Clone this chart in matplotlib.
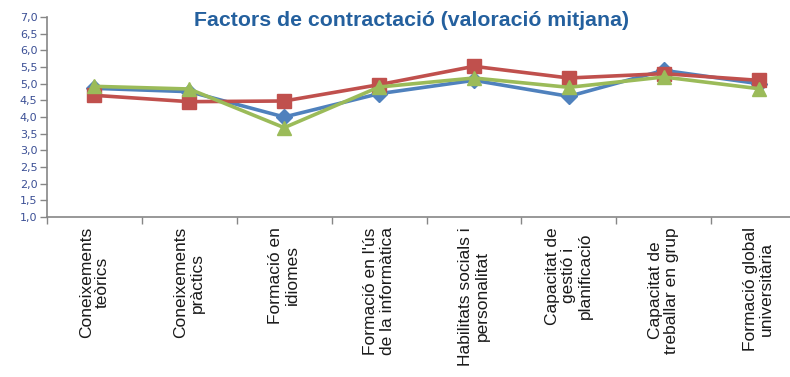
import matplotlib.pyplot as plt
from matplotlib.ticker import FuncFormatter, MultipleLocator

CATEGORIES = [
    "Coneixements\nteòrics",
    "Coneixements\npràctics",
    "Formació en\nidiomes",
    "Formació en l'ús\nde la informàtica",
    "Habilitats socials i\npersonalitat",
    "Capacitat de\ngestió i\nplanificació",
    "Capacitat de\ntreballar en grup",
    "Formació global\nuniversitària",
]
SERIE_BLAVA = [4.86, 4.76, 4.00, 4.70, 5.10, 4.62, 5.40, 5.00]
SERIE_VERMELLA = [4.65, 4.46, 4.48, 4.97, 5.52, 5.17, 5.30, 5.10]
SERIE_VERDA = [4.92, 4.84, 3.68, 4.90, 5.17, 4.89, 5.20, 4.85]

BLAU = "#4F81BD"
VERMELL = "#C0504D"
VERD = "#9BBB59"
GRIS = "#868686"

fig = plt.figure(figsize=(7.9, 3.77), dpi=100)
ax = fig.add_axes([47 / 790, 160 / 377, 759 / 790, 200 / 377])

x = list(range(len(CATEGORIES)))
ax.plot(x, SERIE_BLAVA, color=BLAU, lw=2.6, marker="D", ms=8, zorder=3)
ax.plot(x, SERIE_VERMELLA, color=VERMELL, lw=2.6, marker="s", ms=10, zorder=4)
ax.plot(x, SERIE_VERDA, color=VERD, lw=2.6, marker="^", ms=10, zorder=5)

ax.set_xlim(-0.5, len(CATEGORIES) - 0.5)
ax.set_ylim(1.0, 7.0)
ax.yaxis.set_major_locator(MultipleLocator(0.5))
ax.yaxis.set_major_formatter(FuncFormatter(lambda v, _: f"{v:.1f}".replace(".", ",")))
ax.tick_params(axis="y", direction="out", length=5, width=1, color=GRIS,
               labelsize=8, labelcolor="#3B4F95", pad=2)

# ticks between categories, labels centred on each category
ax.set_xticks([i - 0.5 for i in range(len(CATEGORIES) + 1)])
ax.set_xticklabels([])
ax.tick_params(axis="x", direction="out", length=5, width=1, color=GRIS)
for i, lab in enumerate(CATEGORIES):
    ax.text(i, -0.05, lab, transform=ax.get_xaxis_transform(), rotation=90,
            ha="center", va="top", multialignment="center", fontsize=12.5,
            family="Liberation Sans", color="#1a1a1a", linespacing=1.12)

for side in ("top", "right"):
    ax.spines[side].set_visible(False)
for side in ("left", "bottom"):
    ax.spines[side].set_color(GRIS)
    ax.spines[side].set_linewidth(1.2)

fig.text(412 / 790, 1 - 20 / 377, "Factors de contractació (valoració mitjana)",
         ha="center", va="center", fontsize=15.3, fontweight="bold",
         family="Liberation Sans", color="#24609E")

fig.savefig("out.png", dpi=100)
